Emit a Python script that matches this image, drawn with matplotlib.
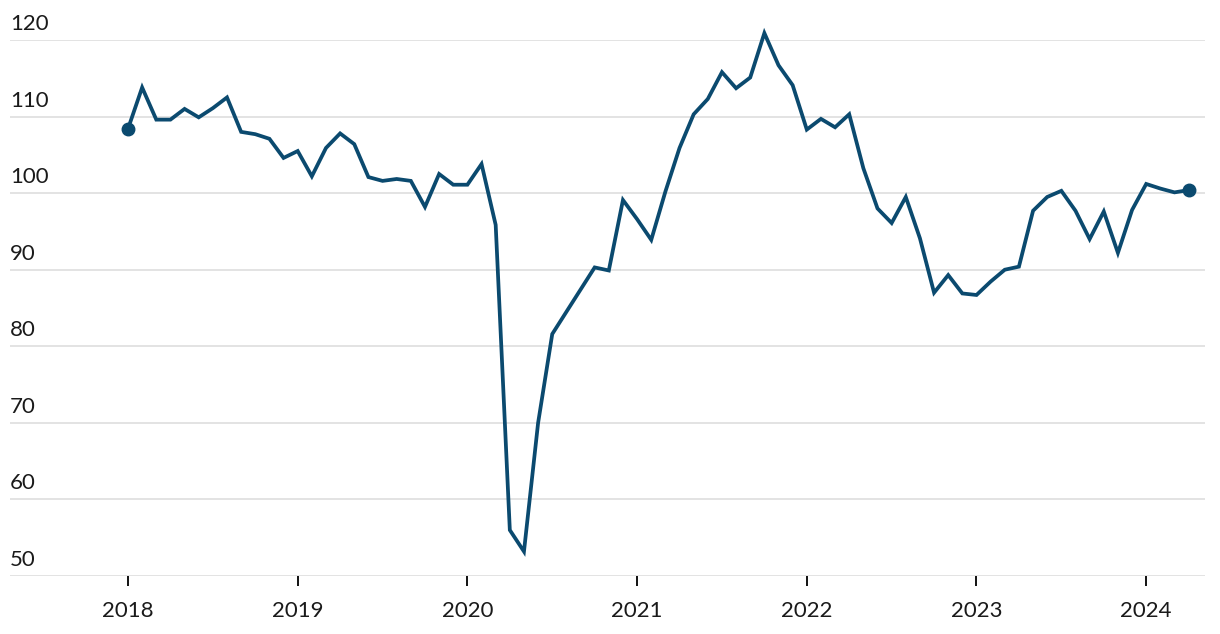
import matplotlib
matplotlib.use("Agg")
import matplotlib.pyplot as plt
import matplotlib.transforms as mtransforms

# Monthly index values, Jan 2018 - Apr 2024
values_2018 = [108.4, 113.8, 109.6, 109.6, 111.0, 109.9, 111.1, 112.5, 108.0, 107.7, 107.1, 104.6]
values_2019 = [105.5, 102.2, 105.9, 107.8, 106.4, 102.1, 101.6, 101.85, 101.6, 98.2, 102.5, 101.1]
values_2020 = [101.1, 103.8, 95.85, 56.0, 53.2, 70.0, 81.6, 84.5, 87.4, 90.3, 89.9, 99.1]
values_2021 = [96.6, 93.9, 100.2, 105.9, 110.3, 112.3, 115.8, 113.7, 115.1, 120.9, 116.7, 114.1]
values_2022 = [108.3, 109.7, 108.6, 110.3, 103.25, 98.0, 96.1, 99.5, 94.1, 87.0, 89.3, 86.9]
values_2023 = [86.7, 88.45, 90.0, 90.4, 97.7, 99.5, 100.3, 97.7, 94.0, 97.6, 92.2, 97.8]
values_2024 = [101.2, 100.6, 100.1, 100.4]

start_year = 2018
values = values_2018 + values_2019 + values_2020 + values_2021 + values_2022 + values_2023 + values_2024
x = [start_year + i / 12 for i in range(len(values))]

year_ticks = [2018, 2019, 2020, 2021, 2022, 2023, 2024]
y_ticks = [50, 60, 70, 80, 90, 100, 110, 120]

color = "#0b4a6f"
plt.rcParams['font.family'] = ['Lato', 'DejaVu Sans']

fig = plt.figure(figsize=(12.2, 6.34), dpi=100)
W, H = 1220, 634
left, right, top, bottom = 10, 1205, 40, 576
ax = fig.add_axes([left / W, 1 - bottom / H, (right - left) / W, (bottom - top) / H])

x0 = 2018 - (128 - left) / 169.7
x1 = 2018 + (right - 128) / 169.7
ax.set_xlim(x0, x1)
ax.set_ylim(50, 120)

base = mtransforms.blended_transform_factory(ax.transAxes, ax.transData)
offset = mtransforms.ScaledTranslation(0, 10 / 100, fig.dpi_scale_trans)
for yv in y_ticks:
    ax.axhline(yv, color="#e3e3e3", lw=1.4, zorder=1)
    ax.text(0, yv, str(yv), transform=base + offset,
            ha='left', va='baseline', fontsize=16, color="#1a1a1a")
ax.set_yticks([])

ax.plot(x, values, color=color, lw=2.7, zorder=3, clip_on=False, solid_joinstyle='miter')
ax.plot([x[0], x[-1]], [values[0], values[-1]], 'o', color=color, ms=9, zorder=4, clip_on=False)

ax.set_xticks(year_ticks)
ax.set_xticklabels([str(y) for y in year_ticks], fontsize=16, color="#1a1a1a")
ax.tick_params(axis='x', direction='out', length=7, width=1.4, color='#111111', pad=11)
for s in ax.spines.values():
    s.set_visible(False)

fig.savefig("out.png", dpi=100)
